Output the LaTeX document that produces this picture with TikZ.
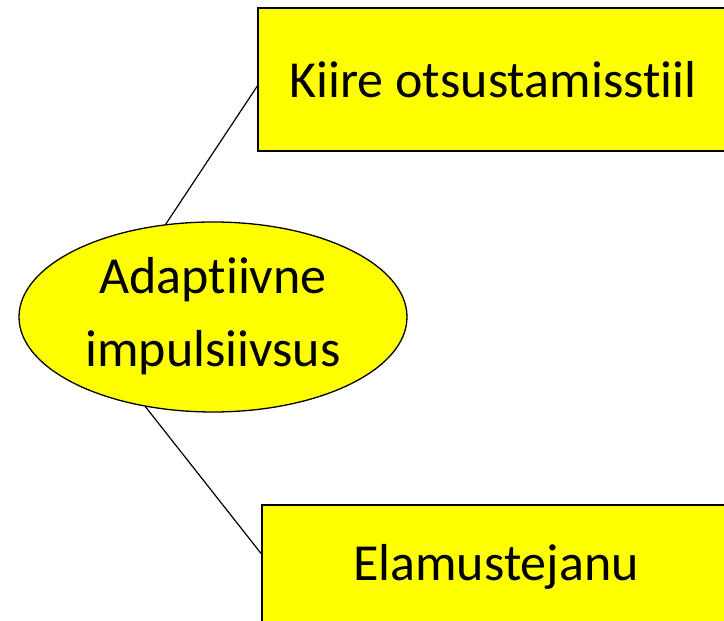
\documentclass[tikz,border=0pt]{standalone}
\usepackage{fontspec}
\setmainfont[Ligatures={NoCommon}]{Carlito}
\usetikzlibrary{shapes.geometric,calc}
\definecolor{boxyellow}{RGB}{255,255,0}
\tikzset{
  yellowbox/.style={draw=black, line width=1.3pt, fill=boxyellow, rectangle, inner sep=0pt, font=\fontsize{52}{72}\selectfont},
  yellowell/.style={draw=black, line width=1.3pt, fill=boxyellow, ellipse, inner sep=0pt, align=center, font=\fontsize{52}{72}\selectfont},
  link/.style={draw=black, line width=1.2pt}
}
\begin{document}
\begin{tikzpicture}[x=1pt,y=1pt]
\useasboundingbox (0,0) rectangle (724,621);
\clip (0,0) rectangle (724,621);
\node[yellowbox, minimum width=470pt, minimum height=143pt] (top) at (493,541.5) {Kiire otsustamisstiil};
\node[yellowbox, minimum width=468pt, minimum height=124pt] (bot) at (496,54) {Elamustejanu};
\node[yellowell, minimum width=388pt, minimum height=190pt] (ell) at (213,304) {\raisebox{-5pt}[0pt][0pt]{\begin{tabular}{@{}c@{}}Adaptiivne\\[1pt]impulsiivsus\end{tabular}}};
\draw[link] (ell.117) -- ($(top.north west)!0.545!(top.south west)$);
\draw[link] (ell.-127) -- ($(bot.north west)!0.395!(bot.south west)$);
\end{tikzpicture}
\end{document}
